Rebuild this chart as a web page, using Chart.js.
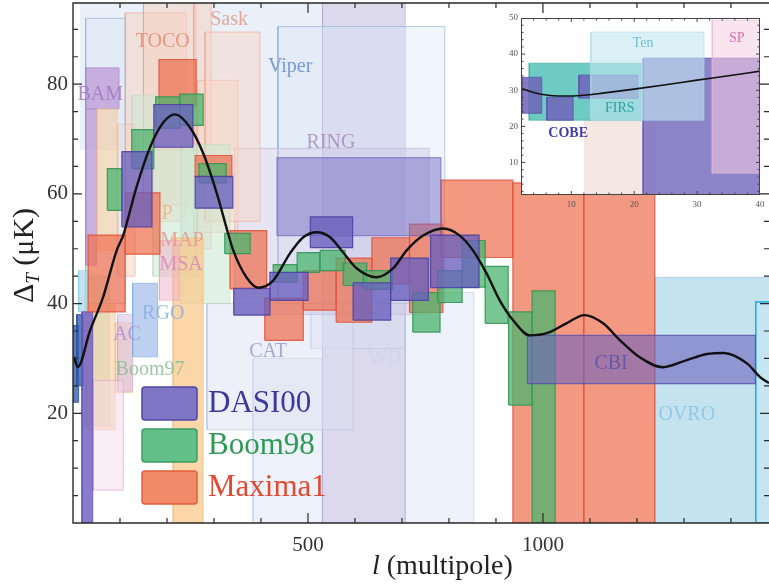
<!DOCTYPE html>
<html lang="en">
<head>
<meta charset="UTF-8">
<title>CMB anisotropy measurements</title>
<script src="https://cdn.jsdelivr.net/npm/chart.js"></script>
<style>
  body { margin: 0; background: #fff; }
  #wrap { position: relative; width: 769px; height: 588px; }
  #main { position: absolute; left: 0; top: 0; }
  #inset { position: absolute; left: 500px; top: 0; }
</style>
</head>
<body>
<div id="wrap">
  <canvas id="main" width="769" height="588"></canvas>
  <canvas id="inset" width="269" height="215"></canvas>
</div>
<script>
// every box is [l from, l to, dT low, dT high]
const dasi00 = [
  [104, 168, 54.0, 67.7], [172, 255, 68.5, 76.3], [260, 340, 57.4, 63.2],
  [342, 419, 37.9, 42.8], [419, 500, 40.6, 45.7], [505, 595, 50.2, 55.8],
  [596, 676, 37.0, 43.8], [676, 756, 40.6, 48.3], [761, 864, 42.9, 52.5]
];
const boom98 = [
  [73, 104, 57.0, 64.6], [125, 172, 64.6, 71.7], [176, 228, 72.0, 77.7],
  [227, 277, 72.5, 78.2], [268, 326, 62.0, 65.5], [323, 377, 49.1, 52.8],
  [426, 477, 43.9, 47.1], [477, 525, 45.7, 49.3], [526, 579, 46.0, 49.7],
  [575, 625, 43.3, 47.4], [618, 680, 42.6, 46.0], [723, 781, 34.8, 42.0],
  [776, 828, 40.2, 46.0], [828, 877, 43.0, 51.5], [877, 926, 36.4, 46.8],
  [927, 977, 21.5, 38.5], [977, 1026, 0, 42.3]
];
const maxima1 = [
  [32, 111, 38.5, 52.5], [111, 185, 49.0, 60.2], [183, 262, 76.0, 84.5],
  [260, 338, 63.0, 67.0], [334, 412, 42.7, 53.3], [408, 490, 33.3, 41.0],
  [490, 560, 38.8, 46.0], [560, 636, 36.6, 48.3], [636, 716, 43.6, 52.0],
  [716, 787, 38.4, 54.5], [783, 936, 48.4, 62.5], [936, 1087, 0, 62.0],
  [1087, 1238, 0, 62.0]
];
const cbi = [[967, 1452, 25.4, 34.2]];
const ring = [[434, 783, 52.4, 66.6]];
const ringPale = [[344, 758, 38, 68.3]];
const ovro = [[1238, 1500, 0, 44.8]];
const ovroEdge = [[1453, 1500, 0, 40.3]];
const skyTop = [[15, 531, 68, 100]];
const lavColumn = [[531, 707, 0, 100]];
const wdBoxes = [[707, 853, 0, 42], [383, 530, 0, 30], [506, 706, 31.8, 38.4]];
const catBoxes = [[285, 596, 17, 40]];
const viperBoxes = [[436, 791, 40, 90.5]];
const tocoBoxes = [[111, 241, 55, 93], [150, 262, 58, 97], [257, 294, 50, 97], [95, 132, 45, 72.7]];
const saskBoxes = [[264, 351, 53, 80.7], [281, 398, 55, 89.5]];
const pythonBoxes = [[27, 111, 40, 92]];
const bamBoxes = [[27, 98, 75.5, 83], [27, 50, 47, 75.5]];
const qmapBoxes = [[230, 334, 40, 69], [125, 176, 71.6, 78], [170, 264, 45, 68]];
const boom97 = [[26, 78, 17.8, 45]];
const peachBoxes = [[28, 90, 17, 40], [90, 127, 23.8, 36.5], [51, 94, 49.7, 75.5]];
const iacBoxes = [[95, 127, 24, 38]];
const pinkBoxes = [[43, 107, 6, 26]];
const matBoxes = [[213, 277, 0, 52]];
const msaBoxes = [[184, 226, 40.6, 51.5]];
const argoBoxes = [[127, 180, 30.3, 43.7]];
const cyanBoxes = [[12, 33, 38.5, 46]];
const cobeMain = [[0, 12, 22, 36], [8, 22, 25, 38]];
const purpleStrip = [[19, 42, 0, 38.5]];

// theory curve
const curveL = [2, 10, 36, 64, 93, 107, 135, 164, 192, 217, 249, 277, 306, 330, 341, 369, 394, 426, 462, 490,
  519, 547, 575, 604, 646, 681, 710, 745, 788, 823, 851, 880, 908, 937, 972, 1008, 1050, 1088, 1128, 1164,
  1206, 1255, 1306, 1349, 1385, 1434, 1462, 1481];
const curveT = [30.3, 28.4, 35, 41.2, 49.7, 52.5, 61.2, 68.5, 73, 74.5, 72.1, 67.4, 60.1, 52.8, 49.7, 44.8, 42.9, 44.2, 49.2, 52.1,
  53.0, 52.1, 49.3, 46.4, 44.8, 46.4, 49.7, 52.4, 53.7, 52.4, 49.7, 45.5, 40.6, 36.9, 34.2, 34.6, 36.4, 37.9, 36.4, 33.3,
  30.2, 28.4, 29.7, 30.8, 31.0, 29.1, 26.6, 25.5];

// inset (low multipoles)
const cobeInset = [[2.2, 5.3, 23.6, 33.6], [6.1, 10.3, 21.7, 28.1], [11.2, 20.6, 27.8, 34.2]];
const firsInset = [[3.3, 21.1, 21.7, 37.5]];
const tenInset = [[13.1, 31.1, 21.7, 46.1]];
const spInset = [[32.4, 41, 7, 49.4]];
const bigInset = [[21.4, 41, 0, 38.9]];
const paleInset = [[12, 23.5, 0, 21.7]];
const insetL = [2.2, 4, 6, 8, 10, 12, 15, 20, 25, 30, 35, 40];
const insetT = [30.4, 29.4, 28.7, 28.4, 28.4, 28.6, 29.2, 30.3, 31.5, 32.8, 34.0, 35.3];

const serif = '"Liberation Serif", "DejaVu Serif", serif';
Chart.defaults.font.family = serif;

function rects(list, fill, line, width) {
    return list.map(([l0, l1, t0, t1]) => ({
        type: 'line',
        data: [{x: l0, y: t0}, {x: l1, y: t0}, {x: l1, y: t1}, {x: l0, y: t1}, {x: l0, y: t0}],
        backgroundColor: fill,
        borderColor: line,
        borderWidth: width,
        fill: 'shape',
        pointRadius: 0,
        tension: 0
    }));
}

// chart.js paints dataset 0 last, so lists are written bottom-up and reversed
function stackUp(list) {
    return list.reverse();
}

const mainSets = stackUp([
    ...rects(skyTop, 'rgba(214,226,242,0.5)', 'rgba(0,0,0,0)', 0),
    ...rects(lavColumn, 'rgba(192,186,222,0.55)', 'rgba(170,165,210,0.5)', 1),
    ...rects(wdBoxes, 'rgba(214,224,242,0.45)', 'rgba(175,195,230,0.5)', 1),
    ...rects(catBoxes, 'rgba(220,225,242,0.5)', 'rgba(180,190,225,0.6)', 1),
    ...rects(viperBoxes, 'rgba(214,228,245,0.35)', 'rgba(125,168,222,0.6)', 1),
    ...rects(ringPale, 'rgba(208,202,232,0.5)', 'rgba(190,180,222,0.6)', 1),
    ...rects(tocoBoxes, 'rgba(248,210,192,0.5)', 'rgba(238,160,140,0.6)', 1),
    ...rects(saskBoxes, 'rgba(248,214,198,0.5)', 'rgba(238,165,145,0.6)', 1),
    ...rects(pythonBoxes, 'rgba(214,230,245,0.4)', 'rgba(140,180,225,0.65)', 1),
    ...rects(bamBoxes, 'rgba(185,150,212,0.7)', 'rgba(170,130,205,0.6)', 1),
    ...rects(qmapBoxes, 'rgba(205,232,210,0.6)', 'rgba(180,220,190,0.5)', 1),
    ...rects(boom97, 'rgba(200,228,205,0.7)', 'rgba(170,215,180,0.6)', 1),
    ...rects(peachBoxes, 'rgba(246,205,162,0.6)', 'rgba(240,185,140,0.5)', 1),
    ...rects(iacBoxes, 'rgba(215,192,228,0.55)', 'rgba(200,170,220,0.5)', 1),
    ...rects(pinkBoxes, 'rgba(246,218,232,0.5)', 'rgba(228,165,205,0.7)', 1),
    ...rects(matBoxes, 'rgba(248,200,140,0.75)', 'rgba(240,185,120,0.6)', 1),
    ...rects(msaBoxes, 'rgba(240,175,200,0.5)', 'rgba(230,160,190,0.5)', 1),
    ...rects(argoBoxes, 'rgba(150,185,230,0.65)', 'rgba(130,170,225,0.6)', 1),
    ...rects(cyanBoxes, 'rgba(165,215,232,0.7)', 'rgba(140,200,225,0.6)', 1),
    ...rects(cobeMain, 'rgba(55,95,170,0.8)', 'rgba(40,80,160,0.8)', 1),
    ...rects(purpleStrip, 'rgba(115,100,195,0.85)', 'rgba(95,80,180,0.8)', 1),
    ...rects(ovro, 'rgba(172,213,232,0.7)', 'rgba(150,200,225,0.6)', 1),
    ...rects(ovroEdge, 'rgba(200,232,245,0.4)', 'rgba(30,170,225,1)', 1.5),
    ...rects(maxima1, 'rgba(238,112,80,0.72)', 'rgba(225,80,55,0.85)', 1.2),
    ...rects(boom98, 'rgba(75,180,110,0.75)', 'rgba(50,150,85,0.9)', 1.2),
    ...rects(ring, 'rgba(120,110,195,0.5)', 'rgba(100,90,180,0.6)', 1.2),
    ...rects(dasi00, 'rgba(105,95,190,0.78)', 'rgba(75,65,160,0.9)', 1.2),
    ...rects(cbi, 'rgba(110,100,190,0.6)', 'rgba(90,80,175,0.8)', 1.2),
    {
        type: 'line',
        data: curveL.map((l, i) => ({x: l, y: curveT[i]})),
        borderColor: '#111',
        borderWidth: 2.4,
        fill: false,
        pointRadius: 0,
        cubicInterpolationMode: 'monotone'
    }
]);

const tags = [
    {text: 'TOCO', l: 191, t: 87.8, color: 'rgba(232,140,115,0.85)'},
    {text: 'Sask', l: 332, t: 91.8, color: 'rgba(230,150,130,0.8)'},
    {text: 'Viper', l: 462, t: 83.1, color: 'rgba(100,140,205,0.85)'},
    {text: 'BAM', l: 58, t: 78.1, color: 'rgba(165,120,190,0.85)'},
    {text: 'RING', l: 549, t: 69.4, color: 'rgba(165,135,185,0.8)'},
    {text: 'P', l: 200, t: 56.4, color: 'rgba(240,170,110,0.7)'},
    {text: 'MAP', l: 232, t: 51.5, color: 'rgba(230,150,145,0.8)'},
    {text: 'MSA', l: 230, t: 47, color: 'rgba(215,135,185,0.8)'},
    {text: 'RGO', l: 192, t: 38.2, color: 'rgba(140,175,222,0.85)'},
    {text: 'AC', l: 115, t: 34.3, color: 'rgba(175,145,215,0.85)'},
    {text: 'Boom97', l: 164, t: 28, color: 'rgba(140,190,150,0.85)'},
    {text: 'CAT', l: 415, t: 31.3, color: 'rgba(160,155,200,0.85)'},
    {text: 'WD', l: 664, t: 30, color: 'rgba(210,212,236,0.9)'},
    {text: 'CBI', l: 1145, t: 29.1, color: 'rgba(95,85,170,0.9)'},
    {text: 'OVRO', l: 1306, t: 19.8, color: 'rgba(140,200,230,0.9)'}
];

const legendItems = [
    {text: 'DASI00', fill: '#7f77c6', line: '#4e47a4', color: '#3b3a9c'},
    {text: 'Boom98', fill: '#62c088', line: '#3a9e62', color: '#2f9a55'},
    {text: 'Maxima1', fill: '#f08a68', line: '#e0603c', color: '#e04a32'}
];

const mainDeco = {
    id: 'mainDeco',
    afterDatasetsDraw(chart) {
        const ctx = chart.ctx, xs = chart.scales.x, ys = chart.scales.y;
        ctx.save();
        ctx.font = '20px ' + serif;
        ctx.textAlign = 'center';
        ctx.textBaseline = 'middle';
        tags.forEach(tg => {
            ctx.fillStyle = tg.color;
            ctx.fillText(tg.text, xs.getPixelForValue(tg.l), ys.getPixelForValue(tg.t));
        });
        ctx.restore();
    },
    afterDraw(chart) {
        const ctx = chart.ctx, xs = chart.scales.x, ys = chart.scales.y, a = chart.chartArea;
        ctx.save();
        // frame (left, top, bottom) and inward ticks
        ctx.strokeStyle = '#2a2a2a';
        ctx.lineWidth = 1.4;
        ctx.beginPath();
        ctx.moveTo(a.right, a.top); ctx.lineTo(a.left, a.top);
        ctx.lineTo(a.left, a.bottom); ctx.lineTo(a.right, a.bottom);
        ctx.stroke();
        ctx.lineWidth = 1.2;
        ctx.beginPath();
        for (let v = 100; v < xs.max; v += 100) {
            const px = xs.getPixelForValue(v), len = v % 500 ? 5 : 10;
            ctx.moveTo(px, a.bottom); ctx.lineTo(px, a.bottom - len);
            ctx.moveTo(px, a.top); ctx.lineTo(px, a.top + len);
        }
        for (let v = 5; v < ys.max; v += 5) {
            const py = ys.getPixelForValue(v), len = v % 20 ? 5 : 9;
            ctx.moveTo(a.left, py); ctx.lineTo(a.left + len, py);
            ctx.moveTo(a.right, py); ctx.lineTo(a.right - len, py);
        }
        ctx.stroke();

        // axis titles
        ctx.fillStyle = '#222';
        ctx.textBaseline = 'alphabetic';
        ctx.textAlign = 'left';
        ctx.font = 'italic 28px ' + serif;
        ctx.fillText('l', 372, 574);
        const wl = ctx.measureText('l').width;
        ctx.font = '28px ' + serif;
        ctx.fillText(' (multipole)', 372 + wl, 574);

        ctx.save();
        ctx.translate(33, 303);
        ctx.rotate(-Math.PI / 2);
        ctx.font = '30px ' + serif;
        ctx.fillText('\u0394', 0, 0);
        const wd = ctx.measureText('\u0394').width;
        ctx.font = 'italic 19px ' + serif;
        ctx.fillText('T', wd, 6);
        const wt = ctx.measureText('T').width;
        ctx.font = '30px ' + serif;
        ctx.fillText(' (\u03bcK)', wd + wt, 0);
        ctx.restore();

        // legend
        ctx.font = '31px ' + serif;
        ctx.textBaseline = 'middle';
        legendItems.forEach((it, i) => {
            const y = 387 + i * 42;
            ctx.beginPath();
            ctx.roundRect(142, y, 55, 33, 3);
            ctx.fillStyle = it.fill;
            ctx.fill();
            ctx.lineWidth = 1.5;
            ctx.strokeStyle = it.line;
            ctx.stroke();
            ctx.fillStyle = it.color;
            ctx.fillText(it.text, 208, y + 17);
        });
        ctx.restore();
    }
};

function noPad(s) {
    s.paddingTop = 0; s.paddingBottom = 0; s.paddingLeft = 0; s.paddingRight = 0;
}

new Chart(document.getElementById('main'), {
    type: 'line',
    data: {datasets: mainSets},
    options: {
        responsive: false,
        animation: false,
        events: [],
        layout: {padding: {top: 3, right: 0, left: 0, bottom: 0}},
        plugins: {legend: {display: false}, tooltip: {enabled: false}},
        scales: {
            x: {
                type: 'linear', min: 0, max: 1481,
                grid: {display: false, drawTicks: false},
                border: {display: false},
                afterBuildTicks: s => { s.ticks = [500, 1000].map(v => ({value: v})); },
                afterFit: s => { s.height = 65; noPad(s); },
                ticks: {padding: 10, color: '#333', font: {size: 21}, callback: v => String(v)}
            },
            y: {
                type: 'linear', min: 0, max: 94.8,
                grid: {display: false, drawTicks: false},
                border: {display: false},
                afterBuildTicks: s => { s.ticks = [20, 40, 60, 80].map(v => ({value: v})); },
                afterFit: s => { s.width = 73; noPad(s); },
                ticks: {padding: 5, color: '#333', font: {size: 21}, callback: v => String(v)}
            }
        }
    },
    plugins: [mainDeco]
});

// ---- inset ----
const insetSets = stackUp([
    ...rects(paleInset, 'rgba(242,226,220,0.8)', 'rgba(0,0,0,0)', 0),
    ...rects(firsInset, 'rgba(60,185,175,0.75)', 'rgba(50,170,160,0.6)', 1),
    ...rects(cobeInset, 'rgba(110,100,185,0.85)', 'rgba(90,80,170,0.7)', 1),
    ...rects(bigInset, 'rgba(120,110,190,0.85)', 'rgba(100,90,180,0.7)', 1),
    ...rects(tenInset, 'rgba(195,232,242,0.6)', 'rgba(170,220,235,0.6)', 1),
    ...rects(spInset, 'rgba(246,205,228,0.55)', 'rgba(235,180,215,0.6)', 1),
    {
        type: 'line',
        data: insetL.map((l, i) => ({x: l, y: insetT[i]})),
        borderColor: '#111',
        borderWidth: 1.6,
        fill: false,
        pointRadius: 0,
        cubicInterpolationMode: 'monotone'
    }
]);

const insetTags = [
    {text: 'Ten', l: 21.4, t: 43.1, color: 'rgba(100,185,215,0.9)', bold: false},
    {text: 'SP', l: 36.3, t: 44.4, color: 'rgba(225,95,160,0.9)', bold: false},
    {text: 'FIRS', l: 17.7, t: 25, color: 'rgba(35,160,155,0.95)', bold: false},
    {text: 'COBE', l: 9.5, t: 18.1, color: 'rgba(55,52,160,0.95)', bold: true}
];

const insetDeco = {
    id: 'insetDeco',
    beforeDatasetsDraw(chart) {
        const a = chart.chartArea, ctx = chart.ctx;
        ctx.save();
        ctx.fillStyle = '#fff';
        ctx.fillRect(a.left, a.top, a.right - a.left, a.bottom - a.top);
        ctx.restore();
    },
    afterDatasetsDraw(chart) {
        const ctx = chart.ctx, xs = chart.scales.x, ys = chart.scales.y;
        ctx.save();
        ctx.textAlign = 'center';
        ctx.textBaseline = 'middle';
        insetTags.forEach(tg => {
            ctx.font = (tg.bold ? 'bold ' : '') + '14px ' + serif;
            ctx.fillStyle = tg.color;
            ctx.fillText(tg.text, xs.getPixelForValue(tg.l), ys.getPixelForValue(tg.t));
        });
        ctx.restore();
    },
    afterDraw(chart) {
        const ctx = chart.ctx, xs = chart.scales.x, ys = chart.scales.y, a = chart.chartArea;
        ctx.save();
        ctx.strokeStyle = '#444';
        ctx.lineWidth = 1;
        ctx.strokeRect(a.left + 0.5, a.top + 0.5, a.right - a.left - 1, a.bottom - a.top - 1);
        ctx.beginPath();
        for (let v = 4; v < xs.max; v += 2) {
            const px = xs.getPixelForValue(v), len = v % 10 ? 2.5 : 4;
            ctx.moveTo(px, a.bottom); ctx.lineTo(px, a.bottom - len);
            ctx.moveTo(px, a.top); ctx.lineTo(px, a.top + len);
        }
        for (let v = 2; v < ys.max; v += 2) {
            const py = ys.getPixelForValue(v), len = v % 10 ? 2.5 : 4;
            ctx.moveTo(a.left, py); ctx.lineTo(a.left + len, py);
            ctx.moveTo(a.right, py); ctx.lineTo(a.right - len, py);
        }
        ctx.stroke();
        ctx.restore();
    }
};

new Chart(document.getElementById('inset'), {
    type: 'line',
    data: {datasets: insetSets},
    options: {
        responsive: false,
        animation: false,
        events: [],
        layout: {padding: {top: 18, right: 9, left: 0, bottom: 0}},
        plugins: {legend: {display: false}, tooltip: {enabled: false}},
        scales: {
            x: {
                type: 'linear', min: 2, max: 40,
                grid: {display: false, drawTicks: false},
                border: {display: false},
                afterBuildTicks: s => { s.ticks = [10, 20, 30, 40].map(v => ({value: v})); },
                afterFit: s => { s.height = 20; noPad(s); },
                ticks: {padding: 4, color: '#555', font: {size: 9}, maxRotation: 0, callback: v => String(v)}
            },
            y: {
                type: 'linear', min: 1, max: 50,
                grid: {display: false, drawTicks: false},
                border: {display: false},
                afterBuildTicks: s => { s.ticks = [10, 20, 30, 40, 50].map(v => ({value: v})); },
                afterFit: s => { s.width = 21; noPad(s); },
                ticks: {padding: 3, color: '#555', font: {size: 9}, callback: v => String(v)}
            }
        }
    },
    plugins: [insetDeco]
});
</script>
</body>
</html>
